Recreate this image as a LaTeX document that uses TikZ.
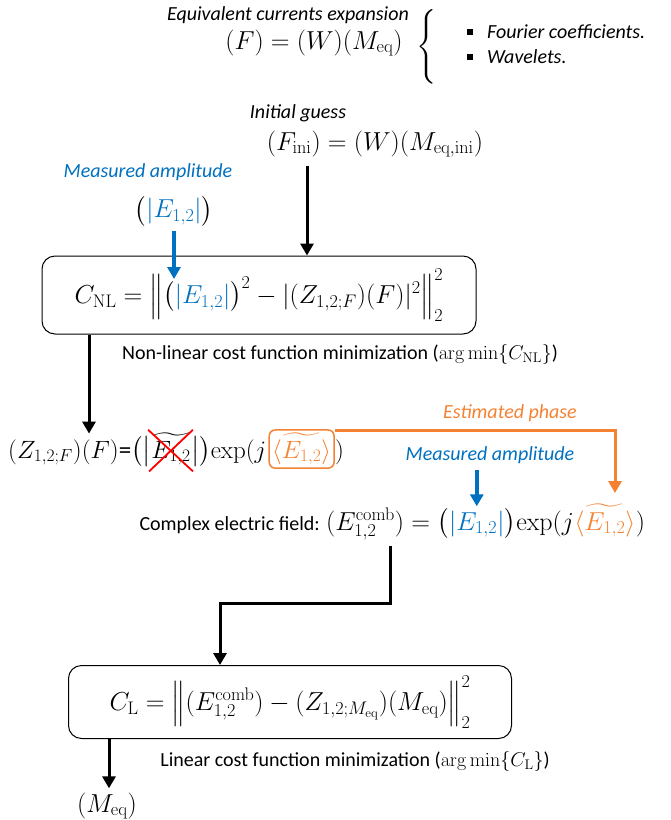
\documentclass[tikz,border=0pt]{standalone}
\usepackage{fix-cm}
\usepackage{amsmath}
\usepackage[no-math]{fontspec}
\setmainfont{Carlito}
\usetikzlibrary{arrows.meta,calc}
\definecolor{mblue}{RGB}{0,112,192}
\definecolor{morange}{RGB}{245,130,50}
\newcommand{\mysz}{\fontsize{20}{24}\selectfont}
\newcommand{\mymathsz}{\fontsize{26}{30}\selectfont}
\newcommand{\myzfsz}{\fontsize{25}{29}\selectfont}
\begin{document}
\begin{tikzpicture}[x=1pt,y=-1pt,
  txt/.style={font=\mysz, inner sep=0pt},
  itxt/.style={font=\mysz\itshape, inner sep=0pt},
  mth/.style={font=\mymathsz, inner sep=0pt},
  chainnode/.style={mth, anchor=base west},
  zfnode/.style={font=\myzfsz, inner sep=0pt, anchor=base west},
  arr/.style={line width=3pt, -{Triangle[length=12pt,width=13pt]}},
  costbox/.style={draw, line width=1pt, rounded corners=13pt, font=\mymathsz, inner sep=0pt},
  bullet/.style={fill, inner sep=0pt, minimum size=6pt}
]
\useasboundingbox (0,0) rectangle (671,820);

% top block
\node[itxt] (eqt) at (288,15) {Equivalent currents expansion};
\node[mth] (eqf) at (314,43) {$(F) = (W)(M_{\mathrm{eq}})$};
\node[mth] (brace) at (427,48) {$\left\{\vrule height 33pt depth 33pt width 0pt\right.$};
\node[bullet] (b1) at (470,32) {};
\node[bullet] (b2) at (470,57) {};
\node[itxt, anchor=west] (four) at (487,32) {Fourier coefficients.};
\node[itxt, anchor=west] (wave) at (487,57) {Wavelets.};

% initial guess
\node[itxt] (ig) at (298,113) {Initial guess};
\node[mth] (fini) at (375,144) {$(F_{\mathrm{ini}}) = (W)(M_{\mathrm{eq,ini}})$};
\node[itxt, text=mblue] (ma1) at (148,172) {Measured amplitude};
\node[mth] (e1) at (174,211) {$\bigl(\textcolor{mblue}{|E_{1,2}|}\bigr)$};

% non-linear cost box
\node[costbox, minimum width=434pt, minimum height=78pt] (cnl) at (259,295)
  {$C_{\mathrm{NL}} = \Bigl\|\bigl(\textcolor{mblue}{|E_{1,2}|}\bigr)^2 - |(Z_{1,2;F})(F)|^2\Bigr\|_2^2$};
\node[txt] (nl) at (340,354) {Non-linear cost function minimization ($\arg\min\{C_{\mathrm{NL}}\}$)};

\coordinate (xa) at (307,0);
\draw[arr] ($(xa |- fini.south)+(0,8)$) -- (xa |- cnl.north);
\coordinate (btip) at (174,279);
\draw[arr, mblue, line width=3.5pt] ($(e1.south)+(0,4)$) -- (btip);

% estimated field
\node[zfnode] (zf1) at (8,458) {$(Z_{1,2;F})(F)$=$\bigl(\bigl|$};
\node[zfnode] (zf2) at (zf1.base east) {$\widetilde{E_{1,2}}$};
\node[zfnode] (zf3) at (zf2.base east) {$\bigr|\bigr)\mathrm{exp}(j$};
\node[zfnode, draw=morange, text=morange, line width=1.5pt, rounded corners=6pt, inner sep=3pt] (zf4) at ($(zf3.base east)+(2,0)$) {$\langle\widetilde{E_{1,2}}\rangle$};
\node[zfnode] (zf5) at (zf4.base east) {$)$};
\draw[red, line width=1.8pt] ($(zf2.north west)+(-3,-3)$) -- ($(zf2.south east)+(2,6)$);
\draw[red, line width=1.8pt] ($(zf2.north east)+(2,-3)$) -- ($(zf2.south west)+(-2,6)$);

\coordinate (xb) at (89,0);
\draw[arr] (cnl.south -| xb) -- ($(xb |- zf1.north)+(0,-3)$);

\node[itxt, text=morange] (ep) at (510,413) {Estimated phase};
\node[itxt, text=mblue] (ma2) at (490,455) {Measured amplitude};

% combined field
\node[chainnode] (cm1) at (326,530) {$(E^{\mathrm{comb}}_{1,2}) = \bigl($};
\node[chainnode] (cm2) at (cm1.base east) {$\textcolor{mblue}{|E_{1,2}|}$};
\node[chainnode] (cm3) at (cm2.base east) {$\bigr)\mathrm{exp}(j$};
\node[chainnode, text=morange] (cm4) at (cm3.base east) {$\langle\widetilde{E_{1,2}}\rangle$};
\node[chainnode] (cm5) at (cm4.base east) {$)$};
\node[txt, anchor=base east] (cef) at ($(cm1.base west)+(-6,0)$) {Complex electric field:};

\coordinate (oc) at (615,430);
\draw[arr, morange] (zf4.east |- oc) -- (oc) -- ($(oc |- cm4.north)+(0,-11)$);
\draw[arr, mblue, line width=3.5pt] ($(ma2.south -| cm2)+(0,6)$) -- ($(cm2.north)+(0,-4)$);

% linear cost box
\node[costbox, minimum width=443pt, minimum height=73pt] (cl) at (290,702)
  {$C_{\mathrm{L}} = \Bigl\|(E^{\mathrm{comb}}_{1,2}) - (Z_{1,2;M_{\mathrm{eq}}})(M_{\mathrm{eq}})\Bigr\|_2^2$};
\node[txt] (lin) at (355,761) {Linear cost function minimization ($\arg\min\{C_{\mathrm{L}}\}$)};
\node[mth] (meq) at (107,806) {$(M_{\mathrm{eq}})$};

\coordinate (k1) at (390,603);
\coordinate (k2) at (220,603);
\draw[arr] ($(cm1.south -| k1)+(0,6)$) -- (k1) -- (k2) -- (k2 |- cl.north);
\coordinate (xc) at (109,0);
\draw[arr] (cl.south -| xc) -- ($(xc |- meq.north)+(0,-4)$);
\end{tikzpicture}
\end{document}
